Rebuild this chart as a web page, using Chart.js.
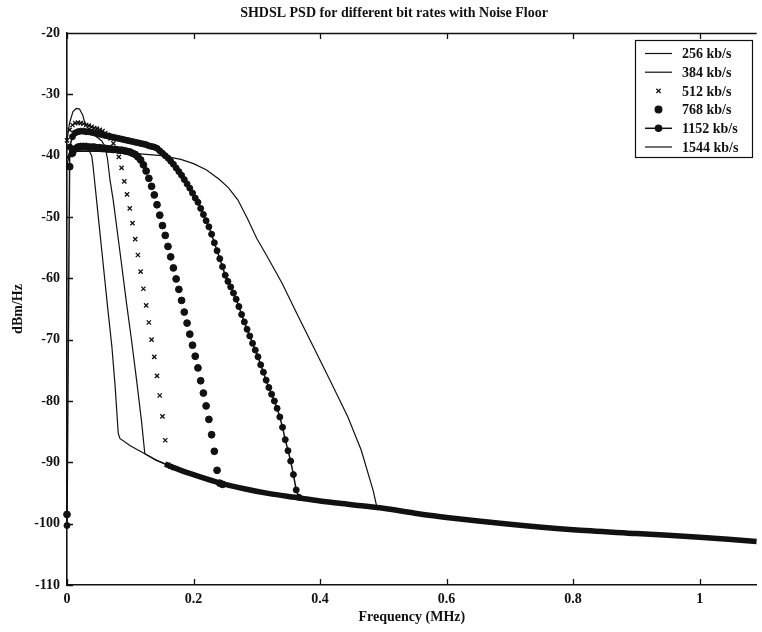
<!DOCTYPE html>
<html>
<head>
<meta charset="utf-8">
<style>
  html, body { margin: 0; padding: 0; background: #fff; }
  #wrap { width: 762px; height: 632px; position: relative; }
</style>
<script src="https://cdn.jsdelivr.net/npm/chart.js@4/dist/chart.umd.min.js"></script>
</head>
<body>
<div id="wrap"><canvas id="psdChart" width="762" height="632"></canvas></div>
<script>
// SHDSL PSD for different bit rates with noise floor.
// Values; frequency in MHz, PSD in dBm/Hz.

const INK = "#111";
const SERIF = '"Liberation Serif", "DejaVu Serif", serif';

// tone grid (4.3125 kHz spacing) used by the marker series
const toneFreq = [
  0, 0.0043, 0.0086, 0.0129, 0.0173, 0.0216, 0.0259, 0.0302, 0.0345, 0.0388,
  0.0431, 0.0474, 0.0518, 0.0561, 0.0604, 0.0647, 0.0690, 0.0733, 0.0776, 0.0819,
  0.0863, 0.0906, 0.0949, 0.0992, 0.1035, 0.1078, 0.1121, 0.1164, 0.1208, 0.1251,
  0.1294, 0.1337, 0.1380, 0.1423, 0.1466, 0.1509, 0.1553, 0.1596, 0.1639, 0.1682,
  0.1725, 0.1768, 0.1811, 0.1854, 0.1898, 0.1941, 0.1984, 0.2027, 0.2070, 0.2113,
  0.2156, 0.2199, 0.2243, 0.2286, 0.2329, 0.2372, 0.2415, 0.2458, 0.2501, 0.2544,
  0.2588, 0.2631, 0.2674, 0.2717, 0.2760, 0.2803, 0.2846, 0.2889, 0.2933, 0.2976,
  0.3019, 0.3062, 0.3105, 0.3148, 0.3191, 0.3234, 0.3278, 0.3321, 0.3364, 0.3407,
  0.3450, 0.3493, 0.3536, 0.3579, 0.3623, 0.3666,
];

// 256 kb/s (line)
const f256 = [0, 0.0043, 0.01, 0.035, 0.039, 0.041, 0.044, 0.05, 0.057, 0.064, 0.071, 0.076, 0.081, 0.0836, 0.10, 0.123, 0.14, 0.16];
const psd256 = [-40.5, -39.5, -39.2, -39.2, -40.0, -41.5, -44.5, -50.5, -57.5, -64.5, -71.2, -77.5, -85.3, -86.1, -87.3, -88.6, -89.6, -90.5];

// 384 kb/s (line)
const f384 = [0, 0.004, 0.0094, 0.0146, 0.0198, 0.025, 0.0277, 0.035, 0.045, 0.055, 0.06, 0.064, 0.068, 0.073, 0.086, 0.094, 0.102, 0.11, 0.118, 0.123, 0.14, 0.16];
const psd384 = [-37.5, -34.7, -32.8, -32.3, -32.4, -33.4, -34.5, -35.8, -36.8, -37.6, -38.5, -40.5, -44.0, -47.2, -57.5, -64.0, -70.1, -76.6, -83.5, -88.6, -89.6, -90.5];

// 512 kb/s (x markers, on toneFreq)
const psd512 = [
  -37.5, -35.8, -35.0, -34.7, -34.6, -34.7, -34.8, -35.0, -35.1, -35.3,
  -35.5, -35.6, -35.8, -36.0, -36.3, -36.6, -37.2, -38.0, -39.0, -40.2,
  -42.0, -44.2, -46.3, -48.6, -51.0, -53.6, -56.2, -58.9, -61.7, -64.4,
  -67.2, -70.0, -72.8, -75.9, -79.1, -82.5, -86.4, -90.4, -90.7, -90.9,
];

// 768 kb/s (dots, on toneFreq)
const psd768 = [
  -98.5, -41.8, -39.6, -38.9, -38.6, -38.5, -38.5, -38.5, -38.6, -38.6,
  -38.6, -38.7, -38.7, -38.8, -38.8, -38.9, -38.9, -39.0, -39.0, -39.1,
  -39.1, -39.2, -39.3, -39.4, -39.6, -39.8, -40.2, -40.7, -41.5, -42.5,
  -43.7, -45.0, -46.4, -48.0, -49.7, -51.4, -53.0, -54.8, -56.5, -58.3,
  -60.1, -61.8, -63.6, -65.5, -67.3, -69.1, -70.9, -72.7, -74.6, -76.7,
  -78.7, -80.8, -83.0, -85.5, -88.2, -91.3, -93.4, -93.6,
];

// 1152 kb/s (dots joined by a line, on toneFreq)
const psd1152 = [
  -100.3, -38.6, -36.9, -36.3, -36.1, -36.0, -36.0, -36.1, -36.1, -36.2,
  -36.3, -36.4, -36.5, -36.6, -36.7, -36.8, -36.9, -37.0, -37.1, -37.2,
  -37.3, -37.4, -37.5, -37.6, -37.7, -37.8, -37.9, -38.0, -38.1, -38.2,
  -38.4, -38.5, -38.6, -38.8, -39.2, -39.6, -40.0, -40.4, -40.9, -41.4,
  -42.0, -42.6, -43.2, -43.9, -44.6, -45.3, -46.1, -46.9, -47.6, -48.6,
  -49.6, -50.6, -51.6, -52.8, -54.2, -55.5, -56.8, -58.1, -59.5, -60.5,
  -61.4, -62.4, -63.4, -64.6, -65.9, -67.1, -68.3, -69.4, -70.6, -71.7,
  -72.8, -74.1, -75.3, -76.6, -77.8, -78.9, -80.0, -81.2, -82.6, -84.3,
  -86.3, -88.1, -89.8, -92.0, -94.5, -95.7,
];

// 1544 kb/s (line)
const f1544 = [0, 0.004, 0.01, 0.05, 0.10, 0.15, 0.18, 0.20, 0.22, 0.24, 0.255, 0.27, 0.285, 0.30, 0.314, 0.34, 0.366, 0.392, 0.418, 0.444, 0.465, 0.484, 0.49, 0.52];
const psd1544 = [-41.5, -39.8, -39.3, -39.3, -39.6, -40.0, -40.6, -41.3, -42.3, -43.8, -45.2, -47.2, -50.2, -53.5, -56.0, -60.8, -66.3, -71.7, -77.1, -82.6, -88.0, -94.6, -97.4, -97.8];

// shared noise floor where all the markers pile up
const fFloor = [0.155, 0.18, 0.20, 0.24, 0.28, 0.32, 0.36, 0.40, 0.45, 0.50, 0.55, 0.60, 0.70, 0.80, 0.90, 1.00, 1.09];
const psdFloor = [-90.3, -91.3, -92.0, -93.3, -94.3, -95.1, -95.7, -96.3, -96.9, -97.5, -98.3, -99.0, -100.1, -101.0, -101.6, -102.2, -102.9];

const xTicksMax = 1.0902;
const yMin = -110;
const yMax = -20;

const pairs = (xs, ys) => ys.map((y, i) => ({ x: xs[i], y }));

// Title, top frame, inward ticks and the boxed legend
const frameAndLegend = {
  id: "frameAndLegend",
  afterDraw(chart) {
    const { ctx, chartArea: a, scales } = chart;
    ctx.save();

    ctx.fillStyle = INK;
    ctx.font = "bold 14px " + SERIF;
    ctx.textAlign = "center";
    ctx.textBaseline = "middle";
    ctx.fillText("SHDSL PSD for different bit rates with Noise Floor", 394, 13);

    ctx.strokeStyle = INK;
    ctx.lineWidth = 1.3;
    ctx.beginPath();
    ctx.moveTo(a.left, a.top + 0.5);
    ctx.lineTo(a.right, a.top + 0.5);
    scales.x.ticks.forEach((t) => {
      const x = Math.round(scales.x.getPixelForValue(t.value)) + 0.5;
      ctx.moveTo(x, a.bottom);
      ctx.lineTo(x, a.bottom - 6);
      ctx.moveTo(x, a.top);
      ctx.lineTo(x, a.top + 6);
    });
    scales.y.ticks.forEach((t) => {
      const y = Math.round(scales.y.getPixelForValue(t.value)) + 0.5;
      ctx.moveTo(a.left, y);
      ctx.lineTo(a.left + 6, y);
    });
    ctx.stroke();

    // legend box
    const box = { x: 635.5, y: 40.5, w: 117, h: 117 };
    ctx.fillStyle = "#fff";
    ctx.fillRect(box.x, box.y, box.w, box.h);
    ctx.lineWidth = 1.2;
    ctx.strokeRect(box.x, box.y, box.w, box.h);

    ctx.font = "bold 14px " + SERIF;
    ctx.textAlign = "left";
    ctx.fillStyle = INK;
    const shown = chart.data.datasets.filter((d) => d.label);
    shown.forEach((ds, i) => {
      const y = 53.5 + i * 18.7;
      if (ds.showLine !== false) {
        ctx.lineWidth = ds.borderWidth || 1;
        ctx.beginPath();
        ctx.moveTo(645, y);
        ctx.lineTo(672, y);
        ctx.stroke();
      }
      if (ds.pointRadius > 0) {
        Chart.helpers.drawPoint(
          ctx,
          { pointStyle: ds.pointStyle, radius: ds.pointRadius, borderWidth: ds.pointBorderWidth || 1, rotation: 0 },
          658.5,
          y
        );
        ctx.fillStyle = INK;
      }
      ctx.fillText(ds.label, 682, y + 1);
    });

    ctx.restore();
  },
};

const lineStyle = {
  borderColor: INK,
  backgroundColor: INK,
  borderWidth: 1.2,
  pointRadius: 0,
  fill: false,
  tension: 0,
  clip: false,
};

new Chart(document.getElementById("psdChart"), {
  type: "line",
  data: {
    datasets: [
      { ...lineStyle, label: "256 kb/s", data: pairs(f256, psd256) },
      { ...lineStyle, label: "384 kb/s", data: pairs(f384, psd384) },
      {
        ...lineStyle,
        label: "512 kb/s",
        data: pairs(toneFreq, psd512),
        showLine: false,
        pointStyle: "crossRot",
        pointRadius: 3,
        pointBorderWidth: 1.3,
        pointBorderColor: INK,
      },
      {
        ...lineStyle,
        label: "768 kb/s",
        data: pairs(toneFreq, psd768),
        showLine: false,
        pointStyle: "circle",
        pointRadius: 3.4,
        pointBorderWidth: 1,
        pointBackgroundColor: INK,
        pointBorderColor: INK,
      },
      {
        ...lineStyle,
        label: "1152 kb/s",
        data: pairs(toneFreq, psd1152),
        borderWidth: 1.5,
        pointStyle: "circle",
        pointRadius: 3,
        pointBorderWidth: 1,
        pointBackgroundColor: INK,
        pointBorderColor: INK,
      },
      { ...lineStyle, label: "1544 kb/s", data: pairs(f1544, psd1544) },
      { ...lineStyle, label: "", data: pairs(fFloor, psdFloor), borderWidth: 5.5, tension: 0.3 },
    ],
  },
  options: {
    responsive: false,
    animation: false,
    devicePixelRatio: 1,
    layout: { padding: { top: 33, right: 0, left: 0, bottom: 0 } },
    plugins: {
      legend: { display: false },
      title: { display: false },
      tooltip: { enabled: false },
    },
    scales: {
      x: {
        type: "linear",
        min: 0,
        max: xTicksMax,
        afterFit: (s) => { s.height = 47; },
        grid: { display: true, drawOnChartArea: false, drawTicks: false },
        border: { display: true, color: INK, width: 1.6 },
        ticks: {
          stepSize: 0.2,
          includeBounds: false,
          padding: 6,
          maxRotation: 0,
          color: INK,
          font: { family: SERIF, size: 14, weight: "bold" },
          callback: (v) => String(Math.round(v * 10) / 10),
        },
        title: {
          display: true,
          text: "Frequency (MHz)",
          color: INK,
          font: { family: SERIF, size: 14, weight: "bold" },
          padding: { top: 0, bottom: 6 },
        },
      },
      y: {
        min: yMin,
        max: yMax,
        afterFit: (s) => { s.width = 67; },
        grid: { display: true, drawOnChartArea: false, drawTicks: false },
        border: { display: true, color: INK, width: 1.6 },
        ticks: {
          stepSize: 10,
          padding: 7,
          color: INK,
          font: { family: SERIF, size: 14, weight: "bold" },
          callback: (v) => String(v),
        },
        title: {
          display: true,
          text: "dBm/Hz",
          color: INK,
          font: { family: SERIF, size: 14, weight: "bold" },
          padding: { top: 10, bottom: 0 },
        },
      },
    },
  },
  plugins: [frameAndLegend],
});
</script>
</body>
</html>
